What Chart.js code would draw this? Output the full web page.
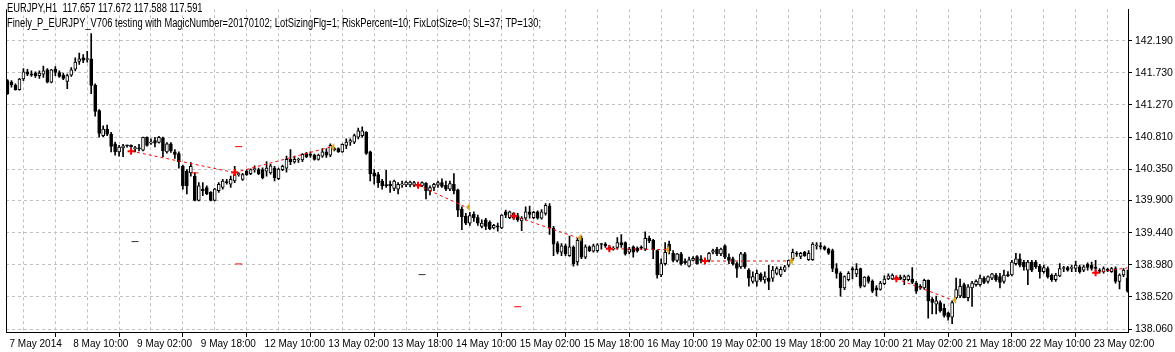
<!DOCTYPE html>
<html>
<head>
<meta charset="utf-8">
<script src="https://cdn.jsdelivr.net/npm/chart.js@4"></script>
<style>
  html, body { margin: 0; padding: 0; background: #fff; }
  #wrap { width: 1175px; height: 352px; }
</style>
</head>
<body>
<div id="wrap"><canvas id="chart" width="1175" height="352"></canvas></div>
<script>
// EURJPY H1 bars, 7 May 2014 18:00 .. 23 May 2014
const opens = [
  141.619,141.596,141.549,141.489,141.642,141.744,141.712,141.726,141.689,141.712,
  141.772,141.596,141.781,141.735,141.698,141.605,141.698,141.781,141.893,141.944,
  141.921,141.930,141.549,141.188,140.830,140.923,140.853,140.714,140.598,140.654,
  140.691,140.696,140.645,140.650,140.621,140.807,140.723,140.761,140.733,140.798,
  140.598,140.714,140.598,140.575,140.389,140.320,140.297,140.250,139.902,140.065,
  140.088,140.018,139.902,140.041,140.088,140.170,140.134,140.181,140.273,140.204,
  140.320,140.287,140.343,140.343,140.343,140.320,140.297,140.366,140.213,140.343,
  140.366,140.491,140.455,140.482,140.482,140.575,140.552,140.552,140.491,140.538,
  140.598,140.552,140.645,140.645,140.598,140.691,140.737,140.737,140.807,140.830,
  140.877,140.598,140.297,140.273,140.181,140.120,140.134,140.074,140.065,140.125,
  140.125,140.125,140.120,140.134,140.111,140.148,140.041,140.088,140.120,140.157,
  140.120,140.065,140.134,140.055,139.777,139.679,139.577,139.703,139.656,139.531,
  139.624,139.591,139.508,139.540,139.508,139.740,139.656,139.717,139.684,139.610,
  139.647,139.740,139.656,139.740,139.647,139.717,139.823,139.508,139.285,139.160,
  139.253,139.113,139.229,139.021,139.359,139.090,139.239,139.174,139.183,139.276,
  139.276,139.239,139.206,139.229,139.299,139.299,139.160,139.239,139.220,139.229,
  139.206,139.359,139.331,139.183,138.835,138.997,139.276,139.146,139.044,139.137,
  139.035,138.960,139.044,139.100,139.067,139.044,139.044,139.160,139.206,139.137,
  139.253,139.090,139.067,138.997,138.951,139.137,138.905,138.742,138.742,138.849,
  138.765,138.789,138.789,138.858,138.835,138.905,138.974,139.067,139.146,139.100,
  139.160,139.053,139.053,139.253,139.253,139.239,139.206,139.183,138.928,138.858,
  138.649,138.766,138.928,138.850,138.928,138.673,138.803,138.743,138.650,138.627,
  138.710,138.780,138.780,138.800,138.803,138.766,138.766,138.775,138.719,138.673,
  138.650,138.757,138.487,138.418,138.441,138.357,138.292,138.232,138.511,138.534,
  138.696,138.511,138.650,138.696,138.696,138.789,138.743,138.789,138.835,138.812,
  138.743,138.840,138.835,138.998,139.067,139.021,138.905,139.021,139.021,138.960,
  138.882,138.928,138.835,138.766,138.821,138.928,138.942,138.928,138.928,138.951,
  138.905,138.988,138.975,138.940,138.905,138.882,138.910,138.882,138.928,138.743,
  138.835,138.789
];
const highs = [
  141.633,141.619,141.573,141.651,141.791,141.781,141.758,141.744,141.758,141.828,
  141.791,141.781,141.819,141.758,141.726,141.712,141.805,141.944,142.013,141.990,
  142.036,142.292,141.573,141.202,140.969,140.983,140.877,140.737,140.691,140.705,
  140.696,140.700,140.677,140.705,140.810,140.815,140.784,140.807,140.820,140.810,
  140.730,140.730,140.630,140.598,140.410,140.343,140.445,140.297,140.157,140.157,
  140.110,140.030,140.075,140.157,140.204,140.204,140.250,140.389,140.300,140.290,
  140.340,140.355,140.399,140.366,140.370,140.459,140.420,140.389,140.366,140.410,
  140.538,140.631,140.538,140.510,140.575,140.590,140.598,140.565,140.565,140.645,
  140.645,140.714,140.660,140.655,140.714,140.784,140.784,140.853,140.937,140.955,
  140.890,140.610,140.343,140.306,140.204,140.334,140.181,140.195,140.157,140.181,
  140.181,140.180,140.175,140.150,140.170,140.157,140.111,140.148,140.181,140.213,
  140.181,140.181,140.287,140.065,139.809,139.717,139.731,139.740,139.693,139.624,
  139.647,139.610,139.560,139.577,139.700,139.763,139.750,139.730,139.717,139.670,
  139.809,139.823,139.745,139.755,139.770,139.856,139.856,139.531,139.313,139.285,
  139.276,139.392,139.253,139.359,139.392,139.267,139.253,139.276,139.285,139.285,
  139.299,139.260,139.240,139.369,139.415,139.310,139.229,139.253,139.239,139.253,
  139.452,139.392,139.345,139.192,139.067,139.299,139.322,139.183,139.146,139.160,
  139.067,139.090,139.100,139.113,139.113,139.060,139.160,139.206,139.229,139.220,
  139.267,139.137,139.090,139.021,139.160,139.160,138.928,138.881,138.905,138.867,
  138.881,138.974,138.960,138.951,138.951,138.974,139.053,139.206,139.170,139.160,
  139.174,139.183,139.299,139.299,139.299,139.253,139.220,139.206,138.997,138.881,
  138.821,138.882,138.951,138.998,138.935,138.812,138.821,138.766,138.684,138.743,
  138.821,138.850,138.850,138.810,138.835,138.835,138.835,138.942,138.743,138.696,
  138.775,138.766,138.511,138.534,138.464,138.418,138.302,138.464,138.789,138.775,
  138.719,138.696,138.743,138.766,138.835,138.812,138.821,138.859,138.859,138.859,
  138.905,138.882,139.044,139.146,139.137,139.044,139.044,139.044,139.044,138.988,
  138.975,138.951,138.850,138.859,138.998,138.960,138.960,138.975,139.035,138.975,
  138.975,139.007,139.021,139.044,138.928,138.951,138.935,138.945,138.951,138.850,
  138.928,138.905
];
const lows = [
  141.419,141.526,141.480,141.480,141.619,141.689,141.679,141.665,141.651,141.665,
  141.587,141.587,141.689,141.665,141.633,141.503,141.679,141.758,141.851,141.874,
  141.884,141.433,141.109,140.807,140.816,140.830,140.598,140.552,140.538,140.529,
  140.665,140.660,140.598,140.610,140.612,140.680,140.705,140.668,140.723,140.529,
  140.580,140.590,140.505,140.366,140.065,139.995,140.250,139.895,139.895,139.972,
  139.985,139.895,139.895,140.018,140.065,140.134,140.088,140.157,140.250,140.190,
  140.260,140.270,140.306,140.270,140.210,140.250,140.280,140.181,140.200,140.330,
  140.306,140.413,140.436,140.445,140.459,140.515,140.520,140.480,140.480,140.520,
  140.520,140.529,140.610,140.590,140.590,140.645,140.691,140.714,140.784,140.807,
  140.560,140.181,140.134,140.088,140.065,140.088,140.018,140.041,139.995,140.088,
  140.100,140.095,140.100,140.095,140.100,139.925,139.981,140.041,140.088,140.088,
  140.041,140.041,139.995,139.670,139.485,139.554,139.545,139.601,139.545,139.508,
  139.485,139.485,139.495,139.461,139.499,139.656,139.640,139.630,139.601,139.471,
  139.624,139.647,139.640,139.635,139.635,139.693,139.415,139.113,139.137,139.113,
  139.113,139.100,138.960,138.974,139.067,139.067,139.170,139.160,139.160,139.206,
  139.229,139.190,139.190,139.206,139.229,139.120,139.137,139.090,139.160,139.200,
  139.183,139.299,139.067,138.789,138.812,138.974,139.137,139.021,139.021,138.974,
  138.988,138.951,139.035,138.988,139.007,139.010,139.021,139.137,139.113,139.113,
  139.067,138.997,138.974,138.800,138.928,138.928,138.673,138.719,138.673,138.742,
  138.719,138.626,138.742,138.835,138.812,138.881,138.951,139.044,139.100,139.067,
  139.100,139.044,139.044,139.206,139.206,139.190,139.130,138.881,138.789,138.533,
  138.626,138.750,138.780,138.812,138.650,138.664,138.719,138.580,138.534,138.617,
  138.696,138.766,138.766,138.775,138.766,138.696,138.750,138.710,138.571,138.627,
  138.627,138.218,138.278,138.278,138.302,138.232,138.186,138.139,138.487,138.511,
  138.505,138.464,138.385,138.673,138.673,138.710,138.719,138.766,138.743,138.650,
  138.719,138.812,138.821,138.975,138.951,138.905,138.696,138.882,138.928,138.789,
  138.859,138.789,138.743,138.743,138.812,138.882,138.890,138.882,138.882,138.859,
  138.882,138.905,138.905,138.859,138.859,138.859,138.882,138.870,138.719,138.636,
  138.812,138.590
];
const closes = [
  141.433,141.559,141.489,141.642,141.744,141.712,141.698,141.689,141.726,141.758,
  141.596,141.772,141.735,141.679,141.651,141.689,141.772,141.884,141.930,141.912,
  141.935,141.549,141.178,140.863,140.923,140.853,140.677,140.598,140.668,140.686,
  140.686,140.668,140.650,140.640,140.807,140.691,140.733,140.723,140.807,140.612,
  140.714,140.612,140.560,140.459,140.111,140.111,140.389,139.902,140.111,140.041,
  139.995,139.902,140.065,140.134,140.181,140.157,140.204,140.273,140.287,140.273,
  140.273,140.343,140.350,140.287,140.227,140.366,140.399,140.227,140.352,140.389,
  140.491,140.459,140.491,140.487,140.561,140.529,140.547,140.491,140.552,140.598,
  140.552,140.691,140.630,140.598,140.705,140.737,140.761,140.830,140.900,140.900,
  140.575,140.287,140.250,140.157,140.111,140.115,140.111,140.181,140.134,140.130,
  140.167,140.167,140.157,140.111,140.157,140.041,140.088,140.134,140.157,140.102,
  140.065,140.143,140.041,139.763,139.670,139.577,139.684,139.656,139.577,139.577,
  139.531,139.499,139.545,139.520,139.693,139.693,139.740,139.647,139.624,139.647,
  139.740,139.703,139.731,139.647,139.740,139.833,139.508,139.276,139.160,139.253,
  139.137,139.239,138.997,139.331,139.090,139.239,139.183,139.253,139.267,139.271,
  139.253,139.206,139.220,139.299,139.267,139.137,139.206,139.160,139.183,139.220,
  139.359,139.322,139.192,138.835,138.997,139.160,139.183,139.044,139.137,138.997,
  139.011,139.053,139.072,138.997,139.044,139.030,139.146,139.183,139.137,139.206,
  139.090,139.044,138.997,138.928,139.137,138.951,138.789,138.812,138.858,138.765,
  138.812,138.742,138.905,138.928,138.914,138.951,139.044,139.160,139.132,139.146,
  139.113,139.146,139.276,139.258,139.239,139.206,139.146,138.928,138.858,138.649,
  138.812,138.859,138.905,138.914,138.673,138.803,138.743,138.603,138.620,138.719,
  138.775,138.821,138.835,138.789,138.775,138.812,138.821,138.729,138.603,138.650,
  138.757,138.464,138.441,138.464,138.325,138.255,138.232,138.441,138.627,138.673,
  138.511,138.664,138.719,138.743,138.789,138.729,138.812,138.850,138.766,138.729,
  138.835,138.825,139.021,139.067,138.975,138.951,139.021,138.905,138.951,138.882,
  138.942,138.812,138.766,138.835,138.928,138.942,138.905,138.946,138.975,138.882,
  138.951,138.942,138.928,138.930,138.890,138.928,138.900,138.928,138.743,138.835,
  138.905,138.603
];

// one time label every 16 bars, grid every 8 bars
const xTickLabels = [
  '7 May 2014', '8 May 10:00', '9 May 02:00', '9 May 18:00', '12 May 10:00', '13 May 02:00',
  '13 May 18:00', '14 May 10:00', '15 May 02:00', '15 May 18:00', '16 May 10:00', '19 May 02:00',
  '19 May 18:00', '20 May 10:00', '21 May 02:00', '21 May 18:00', '22 May 10:00', '23 May 02:00'
];
const yTickLabels = ['138.060', '138.520', '138.980', '139.440', '139.900',
                     '140.350', '140.810', '141.270', '141.730', '142.190'];

const headerLines = [
  'EURJPY,H1  117.657 117.672 117.588 117.591',
  'Finely_P_EURJPY_V706 testing with MagicNumber=20170102; LotSizingFlg=1; RiskPercent=10; FixLotSize=0; SL=37; TP=130;'
];

// trades (bar index, price)
const entryBars   = [31, 57, 103, 127, 151, 175, 223, 273];
const entryPrices = [140.608, 140.301, 140.120, 139.680, 139.211, 139.035, 138.780, 138.868];
const exitBars    = [57, 81, 115, 143, 165, 196, 237, 281];
const exitPrices  = [140.301, 140.667, 139.806, 139.369, 139.198, 139.035, 138.478, 138.937];
const closeBars   = [81, 115, 143, 165, 196, 237];
const closePrices = [140.667, 139.806, 139.369, 139.198, 139.035, 138.478];

// stop / target level marks
const redMarkBars    = [47, 58, 58, 128];
const redMarkPrices  = [140.297, 140.673, 138.993, 138.380];
const darkMarkBars   = [32, 104];
const darkMarkPrices = [139.313, 138.840];

const FONT = '"Liberation Sans Narrow", "Liberation Sans", sans-serif';

function makeCloseArrow() {
    const c = document.createElement('canvas');
    c.width = 10;
    c.height = 9;
    const g = c.getContext('2d');
    g.fillStyle = '#daa520';
    g.beginPath();
    g.moveTo(5, 4.5);
    g.lineTo(9, 0.5);
    g.lineTo(9, 8.5);
    g.closePath();
    g.fill();
    return c;
}

const idx = opens.map((_, i) => i);

const tradeLines = entryBars.map((b, i) => ({
    type: 'line',
    data: [{ x: b, y: entryPrices[i] }, { x: exitBars[i], y: exitPrices[i] }],
    borderColor: '#ff0000',
    borderWidth: 1,
    borderDash: [3, 3],
    pointRadius: 0,
    order: 1
}));

const headerPlugin = {
    id: 'header',
    afterDraw(chart) {
        const { ctx, chartArea } = chart;
        ctx.save();
        ctx.strokeStyle = '#000';
        ctx.lineWidth = 1;
        ctx.beginPath();
        ctx.moveTo(chartArea.left + 0.5, chartArea.top);
        ctx.lineTo(chartArea.left + 0.5, chartArea.bottom);
        ctx.stroke();

        ctx.fillStyle = '#000';
        ctx.font = '12px ' + FONT;
        const sx = 534 / ctx.measureText(headerLines[1]).width;
        headerLines.forEach((line, i) => {
            ctx.save();
            ctx.translate(7, 12 + i * 14.5);
            ctx.scale(sx, 1);
            ctx.fillText(line, 0, 0);
            ctx.restore();
        });
        ctx.restore();
    }
};

new Chart(document.getElementById('chart'), {
    type: 'bar',
    data: {
        datasets: [
            {
                label: 'wicks',
                data: idx.map(i => ({ x: i, y: [lows[i], highs[i]] })),
                backgroundColor: '#000',
                borderWidth: 0,
                barThickness: 1,
                grouped: false,
                order: 3
            },
            {
                label: 'bodies',
                data: idx.map(i => ({ x: i, y: [opens[i], closes[i]] })),
                backgroundColor: idx.map(i => closes[i] >= opens[i] ? '#fff' : '#000'),
                borderColor: '#000',
                borderWidth: 1,
                borderSkipped: false,
                barThickness: 3,
                minBarLength: 1,
                grouped: false,
                order: 2
            },
            ...tradeLines,
            {
                type: 'line',
                data: entryBars.map((b, i) => ({ x: b, y: entryPrices[i] })),
                showLine: false,
                pointStyle: 'cross',
                pointRadius: 3.5,
                pointBorderWidth: 2,
                pointBorderColor: '#ff0000',
                order: 0
            },
            {
                type: 'line',
                data: closeBars.map((b, i) => ({ x: b, y: closePrices[i] })),
                showLine: false,
                pointStyle: makeCloseArrow(),
                pointRadius: 4,
                order: 0
            },
            {
                type: 'line',
                data: redMarkBars.map((b, i) => ({ x: b, y: redMarkPrices[i] })),
                showLine: false,
                pointStyle: 'line',
                pointRadius: 3.5,
                pointBorderWidth: 1,
                pointBorderColor: '#ff0000',
                order: 0
            },
            {
                type: 'line',
                data: darkMarkBars.map((b, i) => ({ x: b, y: darkMarkPrices[i] })),
                showLine: false,
                pointStyle: 'line',
                pointRadius: 3.5,
                pointBorderWidth: 1,
                pointBorderColor: '#333333',
                order: 0
            }
        ]
    },
    options: {
        responsive: false,
        animation: false,
        devicePixelRatio: 1,
        events: [],
        layout: { padding: { left: 2, top: 0, right: 0, bottom: 0 } },
        plugins: {
            legend: { display: false },
            tooltip: { enabled: false }
        },
        scales: {
            x: {
                type: 'linear',
                position: 'bottom',
                min: -0.375,
                max: 281.125,
                offset: false,
                afterBuildTicks: scale => {
                    const ticks = [];
                    for (let v = 0; v <= 281; v += 8) ticks.push({ value: v });
                    scale.ticks = ticks;
                },
                afterFit: scale => { scale.height = 20; },
                ticks: {
                    autoSkip: false,
                    maxRotation: 0,
                    align: 'start',
                    labelOffset: 2,
                    padding: 1,
                    color: '#000',
                    font: { family: FONT, size: 10 },
                    callback: v => (v % 16 === 0 ? xTickLabels[v / 16] : '')
                },
                grid: {
                    color: '#c0c0c0',
                    tickLength: 5,
                    tickColor: c => (c.tick && c.tick.value % 16 === 0 ? '#000' : 'rgba(0,0,0,0)'),
                    tickBorderDash: [10, 0]
                },
                border: { display: true, color: '#000', width: 1, dash: [3, 3] }
            },
            y: {
                type: 'linear',
                position: 'right',
                min: 138.0182,
                max: 142.6396,
                afterBuildTicks: scale => {
                    scale.ticks = yTickLabels.map(l => ({ value: Number(l) }));
                },
                afterFit: scale => { scale.width = 47; },
                ticks: {
                    padding: 3,
                    color: '#000',
                    font: { family: FONT, size: 10.5 },
                    callback: (v, i) => yTickLabels[i]
                },
                grid: {
                    color: '#c0c0c0',
                    tickLength: 4,
                    tickColor: '#000',
                    tickBorderDash: [10, 0]
                },
                border: { display: true, color: '#000', width: 1, dash: [3, 3] }
            }
        }
    },
    plugins: [headerPlugin]
});
</script>
</body>
</html>
